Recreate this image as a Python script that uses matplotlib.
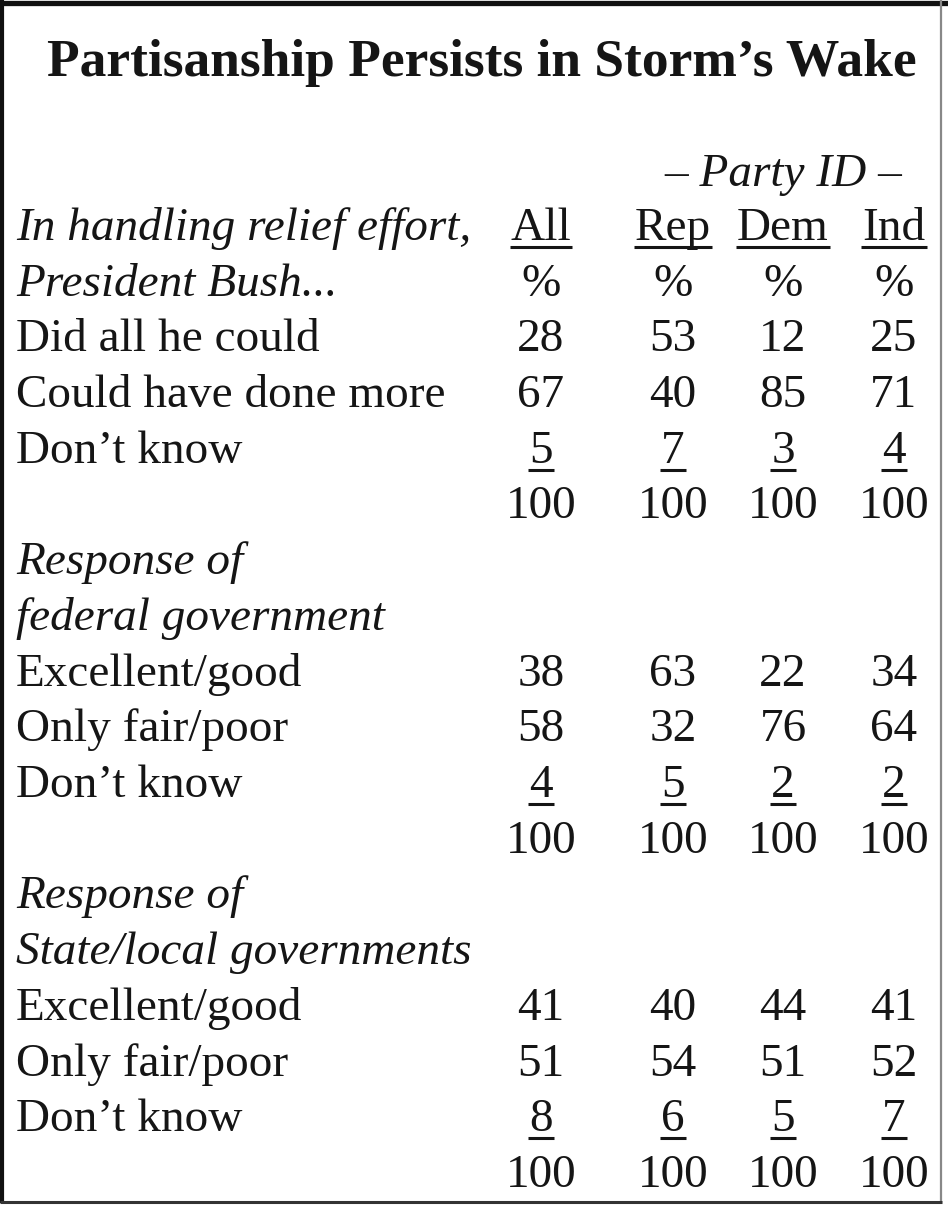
import matplotlib.pyplot as plt

title = "Partisanship Persists in Storm\u2019s Wake"
columns = ["All", "Rep", "Dem", "Ind"]

sections = [
    {
        "heading": ["In handling relief effort,", "President Bush..."],
        "rows": ["Did all he could", "Could have done more", "Don\u2019t know"],
        "values": [[28, 53, 12, 25], [67, 40, 85, 71], [5, 7, 3, 4]],
    },
    {
        "heading": ["Response of", "federal government"],
        "rows": ["Excellent/good", "Only fair/poor", "Don\u2019t know"],
        "values": [[38, 63, 22, 34], [58, 32, 76, 64], [4, 5, 2, 2]],
    },
    {
        "heading": ["Response of", "State/local governments"],
        "rows": ["Excellent/good", "Only fair/poor", "Don\u2019t know"],
        "values": [[41, 40, 44, 41], [51, 54, 51, 52], [8, 6, 5, 7]],
    },
]
totals = [100, 100, 100, 100]

W, H = 948, 1208
fig = plt.figure(figsize=(W / 100, H / 100), dpi=100)
ax = fig.add_axes([0, 0, 1, 1])
ax.set_xlim(0, W)
ax.set_ylim(H, 0)
ax.axis("off")

serif = ["Liberation Serif", "DejaVu Serif"]
ink = "#151515"
fs = 34
col_x = [541, 673, 783, 894]
left = 16
step = 55.7

# frame: dark top/left, lighter right/bottom
ax.plot([0, W], [2.5, 2.5], color="#111111", lw=3.8, solid_capstyle="butt")
ax.plot([2, 2], [0, 1203], color="#111111", lw=3, solid_capstyle="butt")
ax.plot([941, 941], [0, 1203], color="#888888", lw=1.6, solid_capstyle="butt")
ax.plot([0, 942], [1202, 1202], color="#333333", lw=2.2, solid_capstyle="butt")

ax.text(482, 76, title, ha="center", va="baseline", fontsize=38.5,
        fontweight="bold", family=serif, color=ink)

underlined = []

def put(x, yb, s, ha="left", style="normal", ul=False):
    t = ax.text(x, yb, s, ha=ha, va="baseline", fontsize=fs,
                style=style, family=serif, color=ink)
    if ul:
        underlined.append((t, yb + 7))
    return t

put(783, 186, "\u2013 Party ID \u2013", ha="center", style="italic")

y = 240
for si, sec in enumerate(sections):
    put(left, y, sec["heading"][0], style="italic")
    if si == 0:
        for cx, c in zip(col_x, columns):
            put(cx, y, c, ha="center", ul=True)
    y += step
    put(left, y, sec["heading"][1], style="italic")
    if si == 0:
        for cx in col_x:
            put(cx, y, "%", ha="center")
    y += step
    for ri, (label, vals) in enumerate(zip(sec["rows"], sec["values"])):
        put(left, y, label)
        for cx, v in zip(col_x, vals):
            put(cx, y, str(v), ha="center", ul=(ri == len(sec["rows"]) - 1))
        y += step
    for cx, v in zip(col_x, totals):
        put(cx, y, str(v), ha="center")
    y += step

fig.canvas.draw()
r = fig.canvas.get_renderer()
inv = ax.transData.inverted()
for t, uy in underlined:
    bb = t.get_window_extent(r)
    x0 = inv.transform((bb.x0, 0))[0]
    x1 = inv.transform((bb.x1, 0))[0]
    ax.plot([x0 - 1, x1 + 1], [uy, uy], color=ink, lw=2.2, solid_capstyle="butt")

fig.savefig("out.png", dpi=100, facecolor="white")
